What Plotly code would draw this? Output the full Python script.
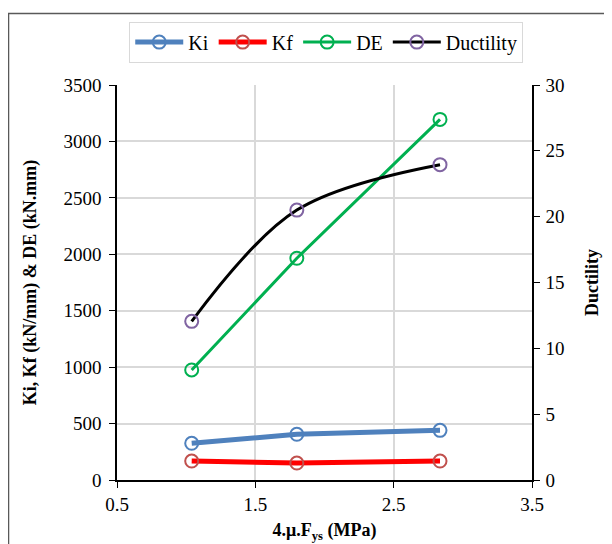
import plotly.graph_objects as go

x_vals = [1.04, 1.80, 2.835]
ki = [325, 405, 440]
kf = [168, 150, 168]
de = [975, 1965, 3195]
ductility = [12.05, 20.5, 23.95]

FONT = "Liberation Serif"
TICKFONT = dict(family=FONT, size=19, color="black")

fig = go.Figure()
fig.add_trace(go.Scatter(x=x_vals, y=ki, name="Ki", mode="lines+markers",
                         line=dict(color="#4F81BD", width=5),
                         marker=dict(symbol="circle-open", size=13, color="#4F81BD", line=dict(width=2))))
fig.add_trace(go.Scatter(x=x_vals, y=kf, name="Kf", mode="lines+markers",
                         line=dict(color="#FF0000", width=5),
                         marker=dict(symbol="circle-open", size=13, color="#C0504D", line=dict(width=2))))
fig.add_trace(go.Scatter(x=x_vals, y=de, name="DE", mode="lines+markers",
                         line=dict(color="#00B050", width=3),
                         marker=dict(symbol="circle-open", size=13, color="#00B050", line=dict(width=2))))
fig.add_trace(go.Scatter(x=x_vals, y=ductility, name="Ductility", mode="lines+markers", yaxis="y2",
                         line=dict(color="#000000", width=3, shape="spline", smoothing=1.0),
                         marker=dict(symbol="circle-open", size=13, color="#8064A2", line=dict(width=2))))

fig.update_layout(
    width=612, height=544,
    margin=dict(l=109, r=88, t=77, b=72, autoexpand=False),
    paper_bgcolor="white", plot_bgcolor="white",
    font=dict(family=FONT, size=18, color="black"),
    showlegend=True,
    legend=dict(orientation="h", xref="container", yref="container", x=0.52, xanchor="center",
                y=0.975, yanchor="top",
                bordercolor="#D9D9D9", borderwidth=1, font=dict(family=FONT, size=20, color="black"),
                itemwidth=48, traceorder="normal"),
    xaxis=dict(range=[0.5, 3.5], dtick=1, tick0=0.5, showgrid=True, gridcolor="#D9D9D9", gridwidth=2,
               showline=True, linecolor="black", linewidth=1.5, ticks="outside", ticklen=6, tickcolor="black",
               zeroline=False, tickformat=".1f", tickfont=TICKFONT, automargin=False,
               title=dict(text="<b>4.μ.F<sub>ys</sub> (MPa)</b>", standoff=10, font=dict(family=FONT, size=18))),
    yaxis=dict(range=[0, 3500], dtick=500, showgrid=True, gridcolor="#D9D9D9", gridwidth=2,
               showline=True, linecolor="black", linewidth=1.5, ticks="outside", ticklen=6, tickcolor="black",
               zeroline=False, tickfont=TICKFONT, automargin=False, ticklabelstandoff=4,
               title=dict(text="<b>Ki, Kf (kN/mm) & DE (kN.mm)</b>", standoff=22, font=dict(family=FONT, size=18))),
    yaxis2=dict(range=[0, 30], dtick=5, overlaying="y", side="right", showgrid=False,
                showline=True, linecolor="black", linewidth=1.5, ticks="outside", ticklen=6, tickcolor="black",
                zeroline=False, tickfont=TICKFONT, automargin=False, ticklabelstandoff=2,
                title=dict(text="<b>Ductility</b>", standoff=22, font=dict(family=FONT, size=18))),
)

fig.add_shape(type="rect", xref="paper", yref="paper", x0=-0.2614, x1=1.5, y0=-0.5, y1=1.181,
              line=dict(color="#595959", width=1.5), fillcolor="rgba(0,0,0,0)", layer="below")

fig.write_html("out.html")
